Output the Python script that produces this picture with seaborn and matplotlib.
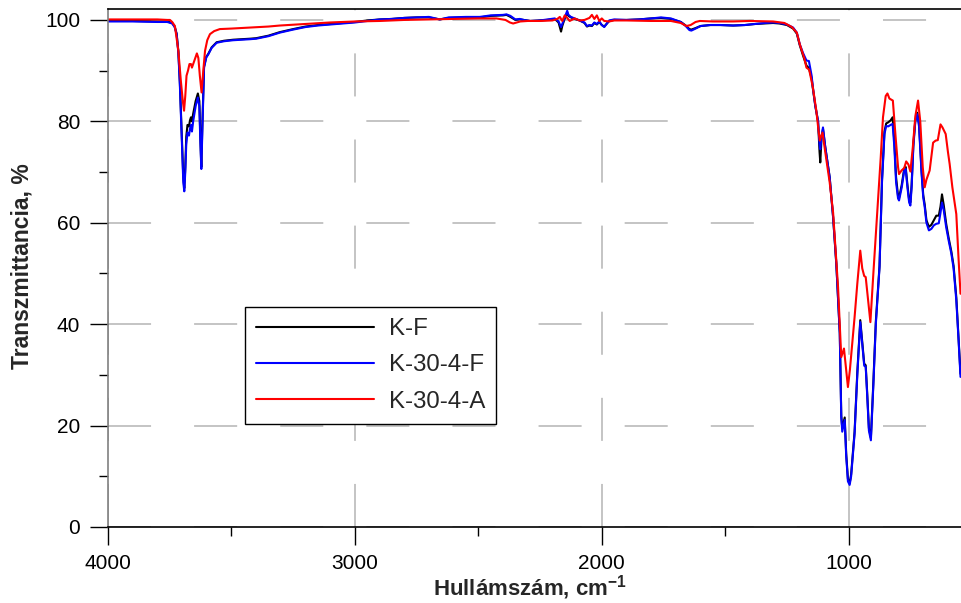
import numpy as np
import pandas as pd
import matplotlib
matplotlib.use("Agg")
import matplotlib.pyplot as plt
import seaborn as sns

# ---------------- data ----------------
w_blue = [4000, 3900, 3800, 3760, 3740, 3730, 3722, 3715, 3709, 3700, 3695, 3691, 3687, 3683,
          3678, 3672, 3668, 3664, 3660, 3655, 3645, 3636, 3630, 3626, 3622, 3618, 3611, 3602,
          3594, 3580, 3560, 3530, 3493, 3425, 3400, 3350, 3304, 3250, 3200, 3150, 3101, 3050,
          3000, 2950, 2899, 2850, 2800, 2750, 2700, 2656, 2620, 2550, 2494, 2450, 2400, 2386,
          2370, 2350, 2332, 2316, 2290, 2250, 2220, 2190, 2175, 2165, 2160, 2150, 2140, 2135,
          2125, 2110, 2090, 2070, 2060, 2050, 2040, 2030, 2020, 2010, 2000, 1990, 1981, 1970,
          1950, 1900, 1850, 1800, 1760, 1720, 1680, 1660, 1645, 1637, 1620, 1600, 1560, 1520,
          1468, 1420, 1380, 1340, 1306, 1280, 1250, 1225, 1210, 1198, 1185, 1171, 1161, 1150,
          1145, 1135, 1124, 1118, 1115, 1110, 1104, 1095, 1077, 1063, 1050, 1036, 1030, 1026,
          1016, 1010, 1003, 996, 990, 976, 965, 953, 945, 937, 931, 925, 918, 910, 900, 890,
          875, 865, 855, 848, 840, 830, 822, 815, 808, 800, 796, 785, 775, 769, 762, 755, 750,
          745, 738, 730, 722, 715, 705, 698, 692, 685, 675, 665, 655, 645, 635, 628, 622, 615,
          605, 595, 584, 575, 564, 555, 547]
t_blue = [99.7, 99.7, 99.6, 99.6, 99.3, 98.6, 97.2, 93.5, 87.3, 75.0, 68.0, 66.2, 70.0, 75.5,
          77.8, 77.2, 78.5, 79.3, 78.0, 80.0, 83.0, 84.7, 83.0, 76.0, 70.6, 78.0, 90.6, 92.6,
          93.2, 94.5, 95.5, 95.8, 96.0, 96.2, 96.3, 96.8, 97.5, 98.1, 98.6, 98.9, 99.1, 99.3,
          99.5, 99.8, 100.1, 100.2, 100.4, 100.5, 100.6, 100.1, 100.5, 100.6, 100.6, 100.9, 101.0, 101.1,
          100.8, 100.1, 100.2, 100.0, 99.8, 99.9, 100.1, 100.3, 99.7, 98.6, 99.2, 100.5, 101.8, 101.0,
          100.6, 100.3, 99.9, 99.5, 98.8, 99.0, 98.9, 99.5, 99.2, 99.7, 99.0, 98.6, 99.2, 99.9,
          100.1, 100.0, 100.1, 100.3, 100.5, 100.3, 99.6, 98.8, 98.0, 97.9, 98.3, 98.8, 99.0, 99.0,
          98.9, 99.0, 99.2, 99.4, 99.5, 99.4, 99.1, 98.5, 97.5, 95.2, 93.5, 92.0, 91.9, 89.0,
          86.7, 83.0, 80.1, 75.5, 74.5, 77.0, 78.8, 75.0, 69.0, 61.1, 51.9, 38.1, 21.7, 18.8,
          21.1, 14.0, 9.0, 8.3, 10.0, 18.4, 30.0, 40.4, 36.0, 31.8, 31.6, 26.0, 19.0, 17.1, 28.0, 40.0,
          51.2, 68.0, 77.5, 79.1, 79.0, 79.3, 79.5, 75.0, 68.0, 64.8, 64.4, 67.0, 70.3, 70.6, 67.0, 64.0, 63.4,
          67.0, 75.0, 80.0, 81.4, 79.0, 70.0, 65.0, 63.1, 60.0, 58.5, 58.8, 59.5, 59.8, 59.9, 62.0, 64.0, 62.5,
          59.1, 56.5, 53.9, 51.0, 44.7, 37.0, 29.6]

w_black = w_blue
t_black = [99.8, 99.8, 99.7, 99.7, 99.4, 98.7, 97.3, 93.8, 87.8, 76.0, 69.0, 66.8, 71.0, 77.0,
           79.3, 79.0, 80.2, 80.8, 80.0, 81.5, 84.0, 85.5, 84.0, 77.0, 71.0, 79.0, 90.8, 92.7,
           93.3, 94.6, 95.6, 95.9, 96.1, 96.3, 96.4, 96.9, 97.6, 98.2, 98.7, 99.0, 99.2, 99.4,
           99.6, 99.9, 100.1, 100.2, 100.4, 100.5, 100.5, 100.1, 100.4, 100.5, 100.5, 100.8, 100.9, 101.0,
           100.6, 100.0, 100.1, 100.0, 99.8, 99.9, 100.0, 100.2, 99.5, 97.7, 98.8, 100.3, 101.4, 100.8,
           100.5, 100.2, 99.9, 99.4, 98.7, 98.9, 98.8, 99.4, 99.1, 99.6, 99.0, 98.7, 99.2, 99.8,
           100.0, 100.0, 100.1, 100.3, 100.4, 100.2, 99.6, 98.9, 98.2, 98.1, 98.4, 98.8, 99.0, 99.0,
           98.9, 99.0, 99.2, 99.3, 99.4, 99.3, 99.0, 98.3, 97.3, 95.0, 93.0, 91.0, 90.5, 88.5,
           86.5, 83.0, 80.0, 74.0, 71.9, 76.5, 78.5, 75.0, 69.0, 61.1, 51.9, 38.3, 22.0, 19.5,
           21.6, 14.5, 9.5, 8.6, 10.4, 18.8, 30.5, 40.8, 36.5, 32.2, 31.9, 26.5, 19.5, 17.6, 28.5, 40.5,
           51.5, 68.5, 78.0, 79.6, 79.8, 80.2, 80.8, 76.0, 69.0, 65.3, 64.9, 67.5, 70.7, 71.0, 67.5, 64.5, 64.0,
           67.5, 75.5, 80.3, 81.7, 79.5, 70.5, 65.5, 63.6, 60.5, 59.2, 59.6, 60.5, 61.4, 61.4, 63.2, 65.6, 63.5,
           59.8, 57.0, 54.3, 51.5, 45.3, 37.5, 30.2]

w_red = [4000, 3900, 3800, 3760, 3749, 3740, 3729, 3715, 3705, 3697, 3692, 3687, 3682, 3676,
         3670, 3664, 3660, 3650, 3640, 3634, 3628, 3621, 3614, 3607, 3598, 3587, 3570, 3547,
         3500, 3425, 3350, 3304, 3200, 3101, 3000, 2899, 2800, 2696, 2600, 2500, 2427, 2390,
         2372, 2359, 2330, 2300, 2250, 2200, 2180, 2170, 2160, 2150, 2140, 2130, 2110, 2090,
         2070, 2050, 2040, 2030, 2020, 2010, 2000, 1990, 1970, 1950, 1900, 1800, 1720, 1680,
         1657, 1640, 1620, 1603, 1550, 1468, 1400, 1306, 1260, 1230, 1210, 1198, 1180, 1171,
         1160, 1145, 1131, 1124, 1117, 1112, 1106, 1095, 1077, 1063, 1043, 1030, 1019, 1010,
         1003, 995, 976, 965, 953, 945, 937, 931, 922, 912, 900, 881, 870, 861, 850, 843, 835,
         821, 810, 800, 796, 786, 775, 767, 758, 750, 740, 730, 719, 710, 700, 692, 685, 672,
         665, 658, 648, 639, 633, 628, 620, 607, 598, 591, 580, 564, 555, 547]
t_red = [100.1, 100.1, 100.1, 100.0, 100.0, 99.6, 98.8, 93.9, 88.0, 84.0, 82.1, 85.0, 89.0, 90.0,
         91.3, 91.3, 90.6, 92.0, 93.4, 92.5, 89.0, 85.7, 90.0, 93.9, 96.0, 97.2, 97.8, 98.2,
         98.3, 98.5, 98.7, 98.9, 99.2, 99.5, 99.7, 99.8, 100.0, 100.1, 100.2, 100.3, 100.3, 100.0,
         99.5, 99.3, 99.7, 99.8, 99.8, 99.9, 100.2, 100.6, 99.8, 100.9, 100.4, 99.8, 100.3, 99.9,
         100.0, 100.4, 101.0, 100.2, 100.9, 99.8, 100.3, 99.8, 99.7, 99.9, 99.9, 99.8, 99.8, 99.4,
         98.8, 99.0, 99.6, 99.8, 99.7, 99.7, 99.8, 99.7, 99.4, 98.6, 97.5, 95.2, 92.5, 90.6,
         90.2, 86.7, 82.1, 79.0, 76.2, 77.0, 77.8, 74.0, 68.0, 62.0, 47.3, 33.5, 35.2, 31.0,
         27.6, 31.0, 41.4, 48.0, 54.5, 51.0, 49.5, 49.3, 45.0, 40.4, 50.0, 64.4, 73.0, 80.8, 85.0, 85.5, 84.5,
         84.1, 77.0, 71.0, 69.6, 70.3, 70.8, 72.1, 71.5, 70.1, 75.0, 81.0, 84.1, 80.0, 71.0, 67.0, 68.5, 70.3,
         73.0, 75.8, 76.2, 76.3, 78.0, 79.4, 78.8, 77.5, 74.0, 71.6, 67.0, 61.7, 53.0, 46.0]

series_names = ["K-F", "K-30-4-F", "K-30-4-A"]
series_colors = ["#000000", "#0000ff", "#ff0000"]
x_ticks = [4000, 3000, 2000, 1000]
x_minor = [3500, 2500, 1500]
y_ticks = [0, 20, 40, 60, 80, 100]
y_minor = [10, 30, 50, 70, 90]

df = pd.concat([
    pd.DataFrame({"w": w_black, "T": t_black, "sample": series_names[0]}),
    pd.DataFrame({"w": w_blue, "T": t_blue, "sample": series_names[1]}),
    pd.DataFrame({"w": w_red, "T": t_red, "sample": series_names[2]}),
], ignore_index=True)

# ---------------- style ----------------
sns.set_style("ticks")
plt.rcParams["font.family"] = ["Liberation Sans", "DejaVu Sans"]
plt.rcParams["lines.scale_dashes"] = False
plt.rcParams["mathtext.fontset"] = "custom"
plt.rcParams["mathtext.rm"] = "Liberation Sans"
plt.rcParams["mathtext.bf"] = "Liberation Sans:bold"

fig = plt.figure(figsize=(9.61, 6.03), dpi=100)
ax = fig.add_axes([108 / 961, 1 - 527 / 603, 1 - 108 / 961, (527 - 9.3) / 603])

sns.lineplot(data=df, x="w", y="T", hue="sample", hue_order=series_names,
             palette=dict(zip(series_names, series_colors)), estimator=None,
             sort=False, linewidth=1.5, ax=ax, legend=True)

ax.set_xlim(4000, 545)
ax.set_ylim(0, 102.1)
ax.set_xticks(x_ticks)
ax.set_xticks(x_minor, minor=True)
ax.set_yticks(y_ticks)
ax.set_yticks(y_minor, minor=True)

ax.set_axisbelow(True)
ax.grid(True, which="major", color="#b4b4b4", linestyle=(0, (31, 31)), linewidth=1.1)

for s in ["top", "bottom"]:
    ax.spines[s].set_color("black")
    ax.spines[s].set_linewidth(1.2)
ax.spines["left"].set_color("#808080")
ax.spines["left"].set_linewidth(1.2)
ax.spines["right"].set_visible(False)

ax.tick_params(axis="both", which="major", direction="out", length=13, width=1.0,
               color="black", labelsize=15, labelcolor="black")
ax.tick_params(axis="both", which="minor", direction="out", length=6.5, width=1.0,
               color="black")
ax.tick_params(axis="x", which="major", pad=6.5)
ax.tick_params(axis="y", which="major", pad=7)

ax.set_xlabel(r"Hullámszám, cm$^{\mathbf{-1}}$", fontsize=16, fontweight="bold", va="center")
ax.xaxis.set_label_coords(0.4947, (527 - 588) / 518)
ax.set_ylabel("Transzmittancia, %", fontsize=16.5, fontweight="bold", va="center")
ax.yaxis.set_label_coords((22 - 108) / 853, 0.504)

handles, labels = ax.get_legend_handles_labels()
leg = ax.legend(handles, labels, loc="upper left", bbox_to_anchor=(0.1606, 0.4247),
                borderaxespad=0, fontsize=17.3, handlelength=4.9, handletextpad=0.65,
                labelspacing=0.6, borderpad=0.45, fancybox=False, framealpha=1,
                edgecolor="black")
leg.get_frame().set_linewidth(1.0)
for h in leg.get_lines():
    h.set_linewidth(1.5)

fig.savefig("out.png", dpi=100)
